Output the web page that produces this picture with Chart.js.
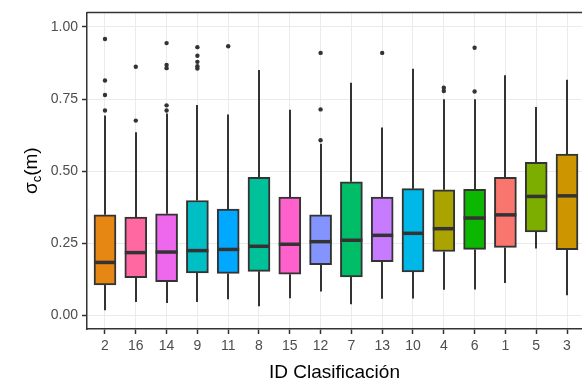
<!DOCTYPE html>
<html>
<head>
<meta charset="utf-8">
<script src="https://cdn.jsdelivr.net/npm/chart.js@4"></script>
<style>
  html, body { margin: 0; padding: 0; background: #fff; }
  #wrap { width: 582px; height: 384px; }
</style>
</head>
<body>
<div id="wrap"><canvas id="boxChart" width="582" height="384"></canvas></div>
<script>
// categories in plotted order
const categories = ['2', '16', '14', '9', '11', '8', '15', '12', '7', '13', '10', '4', '6', '1', '5', '3'];

// box statistics
const whiskerLow = [0.017, 0.046, 0.042, 0.046, 0.055, 0.031, 0.059, 0.082, 0.038, 0.057, 0.058, 0.088, 0.089, 0.112, 0.231, 0.069];
const q1         = [0.105, 0.130, 0.116, 0.147, 0.145, 0.152, 0.142, 0.175, 0.133, 0.186, 0.150, 0.221, 0.228, 0.235, 0.289, 0.227];
const medians    = [0.183, 0.217, 0.219, 0.224, 0.228, 0.239, 0.246, 0.255, 0.260, 0.277, 0.284, 0.300, 0.337, 0.348, 0.412, 0.414];
const q3         = [0.348, 0.340, 0.352, 0.398, 0.368, 0.478, 0.410, 0.348, 0.463, 0.410, 0.439, 0.435, 0.437, 0.478, 0.530, 0.559];
const whiskerHigh = [0.693, 0.635, 0.700, 0.729, 0.696, 0.851, 0.713, 0.595, 0.806, 0.651, 0.855, 0.749, 0.749, 0.832, 0.722, 0.817];

// outliers per category
const outliers = [
  [0.958, 0.814, 0.764, 0.710],
  [0.862, 0.675],
  [0.944, 0.868, 0.857, 0.728, 0.710],
  [0.930, 0.900, 0.879, 0.864, 0.856],
  [0.933],
  [],
  [],
  [0.910, 0.714, 0.607],
  [],
  [0.910],
  [],
  [0.789, 0.778],
  [0.928, 0.776],
  [],
  [],
  []
];

// ggplot hue colours by class id
const classColors = {
  '1': '#F8766D', '2': '#E68613', '3': '#CD9600', '4': '#ABA300',
  '5': '#7CAE00', '6': '#0CB702', '7': '#00BE67', '8': '#00C19A',
  '9': '#00BFC4', '10': '#00B8E7', '11': '#00A9FF', '12': '#8494FF',
  '13': '#C77CFF', '14': '#ED68ED', '15': '#FF61CC', '16': '#FF68A1'
};

const yTicks = [0, 0.25, 0.5, 0.75, 1.0];
const yTickLabels = ['0.00', '0.25', '0.50', '0.75', '1.00'];

const boxData = categories.map((c, i) => ({ x: i + 1, y: [q1[i], q3[i]] }));
const outlierData = [];
outliers.forEach((arr, i) => arr.forEach(v => outlierData.push({ x: i + 1, y: v })));

const INK = '#333333';
const FONT = "'Liberation Sans', Arial, sans-serif";

// whiskers behind the boxes, medians on top, titles and frame
const boxPlotExtras = {
  id: 'boxPlotExtras',
  beforeDatasetsDraw(chart) {
    const { ctx } = chart;
    const xs = chart.scales.x, ys = chart.scales.y;
    ctx.save();
    ctx.strokeStyle = INK;
    ctx.lineWidth = 2;
    categories.forEach((c, i) => {
      const px = Math.round(xs.getPixelForValue(i + 1));
      ctx.beginPath();
      ctx.moveTo(px, ys.getPixelForValue(whiskerLow[i]));
      ctx.lineTo(px, ys.getPixelForValue(q1[i]));
      ctx.moveTo(px, ys.getPixelForValue(q3[i]));
      ctx.lineTo(px, ys.getPixelForValue(whiskerHigh[i]));
      ctx.stroke();
    });
    ctx.restore();
  },
  afterDatasetsDraw(chart) {
    const { ctx, chartArea } = chart;
    const ys = chart.scales.y;
    const meta = chart.getDatasetMeta(0);
    ctx.save();
    ctx.strokeStyle = INK;
    ctx.lineWidth = 3.5;
    meta.data.forEach((bar, i) => {
      const half = bar.width / 2;
      const py = ys.getPixelForValue(medians[i]);
      ctx.beginPath();
      ctx.moveTo(bar.x - half, py);
      ctx.lineTo(bar.x + half, py);
      ctx.stroke();
    });

    // panel frame top edge
    ctx.lineWidth = 1.5;
    ctx.beginPath();
    ctx.moveTo(chartArea.left, chartArea.top);
    ctx.lineTo(chartArea.right, chartArea.top);
    ctx.stroke();

    // y axis title with subscript
    const cy = (chartArea.top + chartArea.bottom) / 2;
    ctx.translate(30, cy);
    ctx.rotate(-Math.PI / 2);
    ctx.fillStyle = '#000';
    ctx.textBaseline = 'alphabetic';
    ctx.font = '19px ' + FONT;
    const wS = ctx.measureText('σ').width;
    const wM = ctx.measureText('(m)').width;
    ctx.font = '13px ' + FONT;
    const wC = ctx.measureText('c').width;
    let x0 = -(wS + wC + wM) / 2;
    ctx.font = '19px ' + FONT;
    ctx.fillText('σ', x0, 7);
    ctx.font = '13px ' + FONT;
    ctx.fillText('c', x0 + wS, 11);
    ctx.font = '19px ' + FONT;
    ctx.fillText('(m)', x0 + wS + wC, 7);
    ctx.restore();
  }
};

new Chart(document.getElementById('boxChart').getContext('2d'), {
  type: 'bar',
  data: {
    datasets: [
      {
        type: 'bar',
        data: boxData,
        backgroundColor: categories.map(c => classColors[c]),
        borderColor: INK,
        borderWidth: 2,
        borderSkipped: false,
        barThickness: 22,
        order: 2
      },
      {
        type: 'scatter',
        data: outlierData,
        pointRadius: 2.2,
        pointBackgroundColor: INK,
        pointBorderWidth: 0,
        order: 1
      }
    ]
  },
  options: {
    responsive: false,
    animation: false,
    events: [],
    layout: { autoPadding: false, padding: { top: 9, right: 0, left: 0, bottom: 0 } },
    plugins: {
      legend: { display: false },
      tooltip: { enabled: false }
    },
    scales: {
      x: {
        type: 'linear',
        offset: false,
        min: 0.416,
        max: 16.487,
        afterBuildTicks(scale) {
          scale.ticks = categories.map((c, i) => ({ value: i + 1 }));
        },
        afterFit(scale) {
          scale.height = 55;
          scale.paddingLeft = 0;
          scale.paddingRight = 0;
        },
        grid: {
          offset: false,
          color: '#EBEBEB',
          lineWidth: 1,
          drawTicks: true,
          tickLength: 5,
          tickColor: INK,
          tickWidth: 1.5
        },
        border: { display: true, color: INK, width: 1.5 },
        ticks: {
          color: '#4D4D4D',
          font: { family: FONT, size: 14 },
          padding: 4,
          maxRotation: 0,
          autoSkip: false,
          callback: (v) => categories[v - 1]
        },
        title: {
          display: true,
          text: 'ID Clasificación',
          color: '#000',
          font: { family: FONT, size: 19 },
          padding: { top: 1, bottom: 0 }
        }
      },
      y: {
        type: 'linear',
        min: -0.048,
        max: 1.0505,
        afterBuildTicks(scale) {
          scale.ticks = yTicks.map(v => ({ value: v }));
        },
        afterFit(scale) { scale.width = 87; },
        grid: {
          color: '#EBEBEB',
          lineWidth: 1,
          drawTicks: true,
          tickLength: 5,
          tickColor: INK,
          tickWidth: 1.5
        },
        border: { display: true, color: INK, width: 1.5 },
        ticks: {
          color: '#4D4D4D',
          font: { family: FONT, size: 14 },
          padding: 4,
          callback: (v) => yTickLabels[yTicks.indexOf(v)]
        }
      }
    }
  },
  plugins: [boxPlotExtras]
});
</script>
</body>
</html>
